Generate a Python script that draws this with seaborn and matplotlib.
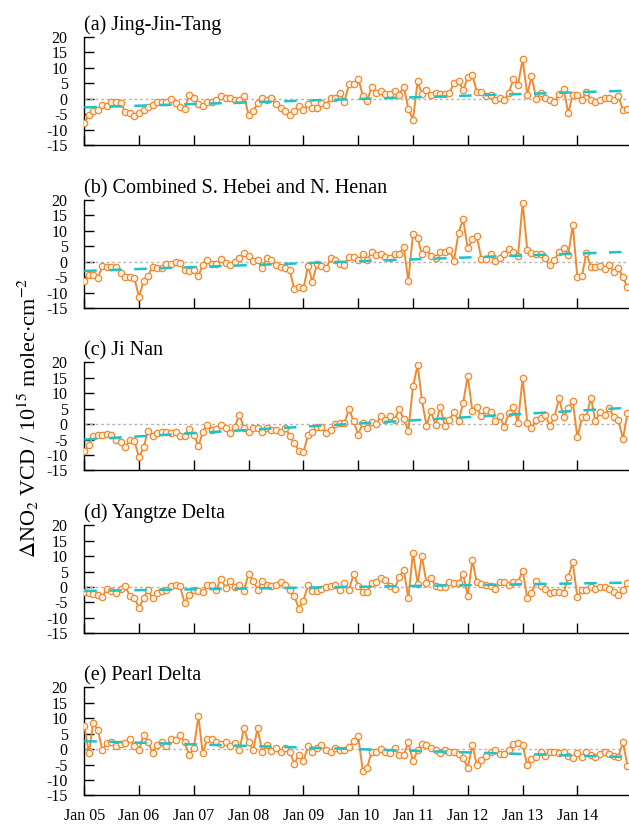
import numpy as np
import pandas as pd
import matplotlib
matplotlib.use('Agg')
import matplotlib.pyplot as plt
import matplotlib.dates as mdates
import seaborn as sns

# Monthly time axis, Jan 2005 - Dec 2014
months = pd.date_range('2005-01-01', periods=120, freq='MS')
year_ticks = pd.date_range('2005-01-01', periods=10, freq='YS')

titles = ['(a) Jing-Jin-Tang',
          '(b) Combined S. Hebei and N. Henan',
          '(c) Ji Nan',
          '(d) Yangtze Delta',
          '(e) Pearl Delta']

# Delta NO2 VCD (1e15 molec/cm2)
jing_jin_tang = [
    -7.9, -5.2, -3.9, -3.5, -1.9, -2.5, -1.2, -0.9, -1.4, -4.4,
    -4.6, -5.7, -4.6, -3.6, -2.7, -1.9, -0.9, -0.9, -0.9, -0.1,
    -1.4, -2.7, -3.3, 1.2, 0.2, -1.6, -2.3, -0.9, -0.9, -0.5,
    1.0, 0.2, 0.2, -0.5, -0.3, 1.0, -5.2, -4.1, -1.4, 0.3,
    -0.3, 0.1, -1.6, -3.0, -4.1, -5.3, -4.1, -2.3, -3.6, -1.6,
    -3.1, -3.1, -1.4, -2.0, 0.2, 0.2, 1.8, -0.9, 4.7, 4.7,
    6.5, 1.0, -0.6, 3.8, 1.8, 2.4, 1.6, 1.6, 2.4, 1.3,
    3.8, -3.2, -6.8, 5.6, 1.6, 2.7, 1.3, 2.0, 1.6, 1.6,
    1.8, 5.1, 5.9, 2.7, 6.9, 7.7, 2.3, 2.3, 1.0, 1.2,
    -0.3, 0.2, -0.5, 2.0, 6.4, 4.5, 12.8, 1.2, 7.4, 0.0,
    2.0, 0.1, -0.3, -0.9, 1.6, 3.3, -4.6, 1.2, 1.2, -0.3,
    2.2, -0.3, -0.9, -0.3, 0.4, 0.4, -0.3, 1.0, -3.8, -3.3]

hebei_henan = [
    -6.2, -4.3, -4.3, -5.4, -1.4, -1.6, -1.6, -1.8, -3.6, -5.1,
    -5.1, -5.4, -11.4, -6.2, -4.6, -1.6, -2.2, -2.2, -0.8, -0.8,
    0.0, -0.5, -2.7, -3.0, -2.7, -4.6, -1.1, 0.5, -0.8, -0.8,
    0.8, -0.3, -1.1, 0.0, 1.1, 2.7, 1.8, 0.3, 0.5, -1.9,
    1.1, 0.5, -1.1, -1.8, -2.2, -2.7, -9.0, -8.3, -8.6, -1.4,
    -6.5, -0.8, -1.4, -2.2, 1.1, 0.5, -0.8, -1.2, 1.4, 1.4,
    0.5, 2.5, 0.5, 3.2, 2.2, 2.4, 1.6, 1.1, 2.5, 2.5,
    4.6, -6.2, 8.9, 7.6, 2.4, 4.2, 1.8, 1.3, 3.1, 3.2,
    3.8, 0.3, 9.4, 13.8, 4.3, 7.2, 8.3, 0.9, 0.8, 2.4,
    0.2, 1.1, 2.4, 4.0, 3.2, 1.8, 19.1, 3.8, 2.7, 2.5,
    2.4, 1.1, -1.1, 0.5, 3.2, 4.3, 2.2, 11.9, -5.1, -4.6,
    2.9, -1.8, -1.8, -1.4, -2.3, -1.1, -3.2, -2.2, -5.1, -8.3]

ji_nan = [
    -8.8, -6.7, -3.8, -3.4, -3.4, -3.2, -3.4, -5.1, -5.8, -7.5,
    -5.1, -5.4, -10.8, -7.5, -2.2, -4.0, -2.9, -2.7, -2.7, -2.9,
    -2.4, -3.8, -3.8, -1.5, -3.4, -7.2, -2.6, -0.2, -1.8, -1.5,
    -0.4, -1.3, -3.0, -0.8, 3.0, -1.1, -2.6, -1.1, -1.1, -2.6,
    -1.3, -1.8, -1.8, -2.6, -1.1, -3.7, -6.1, -8.6, -9.1, -3.4,
    -2.4, -0.8, -0.8, -2.9, -1.8, 0.0, 0.3, 0.3, 5.0, 0.9,
    -3.4, 0.5, -1.3, 0.6, 0.0, 2.5, 1.4, 2.5, 1.4, 4.8,
    1.6, -2.2, 12.2, 19.2, 7.9, -0.5, 4.1, -0.4, 5.7, -0.5,
    1.4, 3.9, 1.1, 6.7, 15.7, 4.1, 5.4, 2.5, 4.6, 3.9,
    1.1, 2.5, -0.8, 3.6, 5.4, 0.5, 14.9, 0.5, -1.3, 1.4,
    1.9, 3.0, -0.5, 2.2, 8.4, 2.3, 5.2, 7.5, -4.3, 2.2,
    2.3, 8.6, 0.9, 3.9, 2.8, 5.2, 2.2, 1.3, -4.7, 3.6]

yangtze_delta = [
    -1.5, -1.9, -2.3, -2.5, -3.3, -0.5, -1.4, -1.9, -0.5, 0.4,
    -3.0, -3.6, -6.8, -3.6, -0.9, -3.6, -1.9, -1.2, -0.9, 0.2,
    0.5, 0.2, -5.2, -2.5, -0.9, -1.2, -1.6, 0.5, 0.8, -0.9,
    2.7, -0.3, 2.0, -0.1, 0.8, -1.2, 4.2, 2.0, -0.9, 2.0,
    0.5, 0.2, 0.8, 1.6, 0.8, -0.9, -3.0, -7.0, -4.4, 0.8,
    -1.4, -1.2, -0.5, -0.1, 0.2, 0.5, -0.9, 1.3, -0.9, 4.2,
    0.4, -1.6, -1.6, 1.2, 1.6, 2.9, 2.3, 0.2, -0.5, 3.1,
    5.6, -3.6, 11.1, 1.0, 10.2, 1.3, 2.9, 0.4, 0.0, 0.0,
    1.6, 1.2, 1.2, 4.2, -2.8, 8.7, 1.6, 1.1, 0.8, 0.2,
    -0.6, 1.6, 1.6, 0.5, 1.5, 1.6, 5.3, -3.6, -1.9, 2.0,
    0.2, -0.5, -2.0, -1.6, -1.6, -2.0, 3.3, 8.0, -3.3, -1.0,
    -1.0, 0.1, -0.6, 0.1, 0.1, -0.5, -1.6, -2.7, -0.9, 1.2]

pearl_delta = [
    7.5, -1.3, 8.4, 6.3, -0.2, 1.9, 2.2, 1.1, 1.7, 1.9,
    3.4, 0.9, -0.2, 4.6, 2.4, -1.3, 1.3, 2.2, 1.1, 3.2,
    2.8, 4.5, 2.2, -1.9, 0.5, 10.6, -1.3, 3.4, 3.4, 2.4,
    1.6, 2.4, 1.1, 1.9, -0.4, 6.7, 2.2, -0.2, 6.7, -0.8,
    1.3, -0.5, 0.5, -0.8, 0.3, -0.8, -4.7, -1.8, -3.8, 1.1,
    -1.1, 0.2, 1.3, -0.2, -0.8, 0.3, -0.4, -0.4, 0.6, 2.5,
    4.1, -7.2, -6.1, -0.8, -0.8, 0.1, -0.9, -1.3, 0.4, -1.9,
    -1.8, 2.3, -3.9, -0.4, 1.6, 1.2, 0.3, -0.4, -1.3, -0.2,
    -0.8, -1.1, -1.5, -2.9, -6.0, 1.3, -5.1, -3.4, -2.2, -1.1,
    -0.4, -1.5, -1.5, -0.4, 1.6, 1.9, 1.3, -5.3, -3.2, -2.4,
    -1.1, -2.2, -0.8, -0.8, -1.3, -0.8, -2.2, -2.9, -1.3, -2.4,
    -1.1, -1.9, -2.6, -1.5, -1.1, -1.5, -2.2, -2.4, 2.2, -5.4]

# linear trend, value at first and last month
trend_start = [-2.8, -3.0, -5.0, -1.3, 2.6]
trend_end = [2.6, 3.2, 5.3, 1.4, -2.6]

series = [jing_jin_tang, hebei_henan, ji_nan, yangtze_delta, pearl_delta]

sns.set_style('ticks')
plt.rcParams['font.family'] = ['Liberation Serif', 'DejaVu Serif']
plt.rcParams['mathtext.fontset'] = 'stix'
plt.rcParams['axes.unicode_minus'] = False
plt.rcParams['text.color'] = 'black'
plt.rcParams['axes.labelcolor'] = 'black'
plt.rcParams['axes.titlecolor'] = 'black'

orange = '#F08A30'
cyan = '#1CC3CB'

fig = plt.figure(figsize=(6.29, 8.25), dpi=100)
left = 84.3 / 629
width = 1 - left
height = 108 / 825
bottoms = [0.8242, 0.6267, 0.4298, 0.2324, 0.0359]

for k in range(5):
    ax = fig.add_axes([left, bottoms[k], width, height])
    ax.axhline(0, color='#B5B5B5', lw=1, ls=(0, (2, 2)), zorder=1)
    sns.lineplot(x=months, y=series[k], ax=ax, color=orange, lw=1.4,
                 marker='o', markersize=4.6, markerfacecolor='#FFF1E4',
                 markeredgecolor=orange, markeredgewidth=0.9, zorder=3)
    # trend drawn over the series
    ax.plot([months[0], months[-1]], [trend_start[k], trend_end[k]],
            color=cyan, lw=1.8, dashes=(5, 5), zorder=4)
    ax.set_ylim(-15, 20)
    ax.set_yticks(np.arange(-15, 21, 5))
    ax.set_xlim(pd.Timestamp('2005-01-01'), pd.Timestamp('2014-12-11'))
    ax.set_xticks(year_ticks)
    ax.xaxis.set_major_formatter(mdates.DateFormatter('%b %y'))
    ax.set_xlabel('')
    ax.set_ylabel('')
    sns.despine(ax=ax)
    for s in ['left', 'bottom']:
        ax.spines[s].set_linewidth(1)
        ax.spines[s].set_color('black')
    ax.tick_params(direction='in', length=7, width=1, colors='black',
                   labelcolor='black', labelsize=11.5)
    ax.tick_params(axis='y', pad=12)
    ax.tick_params(axis='x', pad=9)
    if k < 4:
        ax.tick_params(labelbottom=False)
    ax.set_title(titles[k], loc='left', fontsize=14.5, pad=5, color='black')

fig.text(0.045, 0.493, r'$\Delta$NO$_2$ VCD / 10$^{15}$ molec$\cdot$cm$^{-2}$',
         rotation=90, ha='center', va='center', fontsize=16, color='black')

fig.savefig('out.png', dpi=100)
